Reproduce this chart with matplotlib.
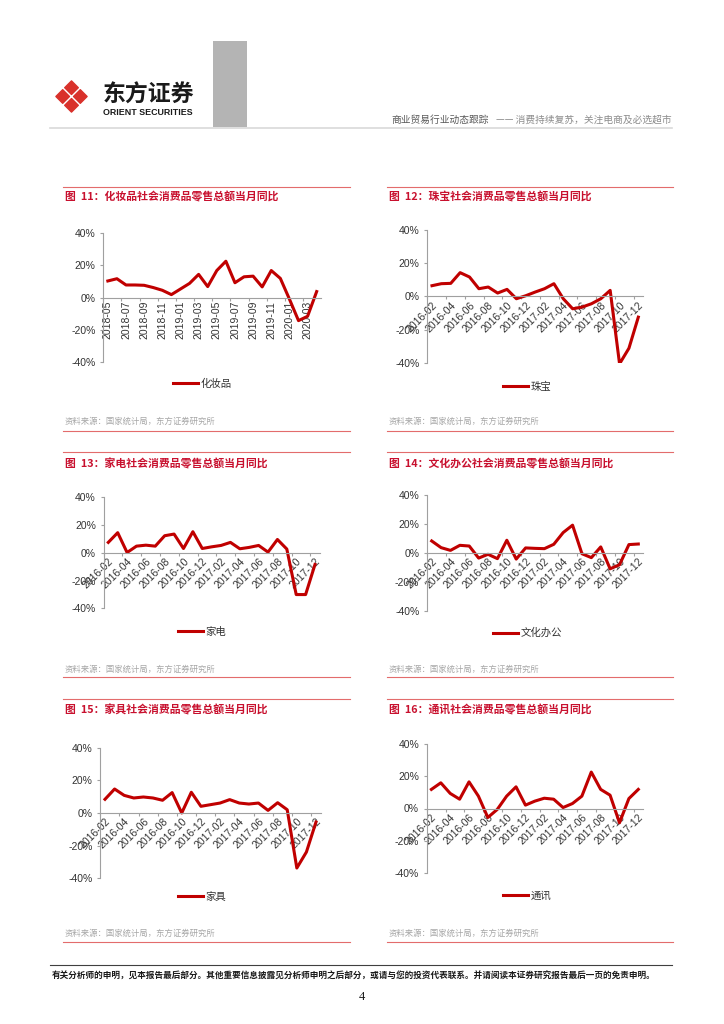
import matplotlib.pyplot as plt
from matplotlib.patches import Polygon, Rectangle
from matplotlib.ticker import FuncFormatter

# ---- 数据 (从原图读取, 单位 %) ----
months_a = ['2018-05', '2018-06', '2018-07', '2018-08', '2018-09', '2018-10',
            '2018-11', '2018-12', '2019-01', '2019-02', '2019-03', '2019-04',
            '2019-05', '2019-06', '2019-07', '2019-08', '2019-09', '2019-10',
            '2019-11', '2019-12', '2020-01', '2020-02', '2020-03', '2020-04']
months_b = ['2016-02', '2016-03', '2016-04', '2016-05', '2016-06', '2016-07',
            '2016-08', '2016-09', '2016-10', '2016-11', '2016-12', '2017-01',
            '2017-02', '2017-03', '2017-04', '2017-05', '2017-06', '2017-07',
            '2017-08', '2017-09', '2017-10', '2017-11', '2017-12']

cosmetics = [10.3, 11.7, 7.8, 7.8, 7.6, 6.2, 4.5, 1.8, 5.3, 8.8, 14.4, 6.8,
             16.8, 22.6, 9.2, 12.9, 13.3, 6.6, 16.8, 11.9, -1.0, -14.4, -11.7, 3.7]
jewelry = [6.4, 7.6, 7.8, 14.2, 11.6, 4.6, 5.6, 2.0, 4.2, -1.4, 0.4, 2.6,
           4.6, 7.6, -1.4, -7.4, -6.4, -4.4, -1.4, 3.6, -40.3, -31.0, -12.4]
appliance = [7.5, 14.5, 0.2, 4.8, 5.5, 4.8, 12.3, 13.5, 3.1, 15.2, 3.1, 4.3,
             5.3, 7.5, 2.9, 3.9, 5.3, 0.5, 9.6, 2.7, -30.1, -30.1, -8.4]
office = [8.3, 3.7, 1.8, 5.3, 4.8, -3.5, -0.9, -3.9, 8.8, -4.2, 3.5, 3.2,
          3.0, 6.0, 14.1, 19.2, -0.5, -3.2, 4.2, -10.9, -8.1, 5.8, 6.2]
furniture = [8.4, 14.7, 10.8, 9.2, 9.8, 9.2, 7.8, 12.5, 0.0, 12.7, 4.1, 5.1,
             6.1, 8.2, 6.1, 5.5, 6.1, 1.6, 6.3, 2.0, -33.7, -23.9, -5.5]
telecom = [11.9, 16.0, 9.4, 5.8, 16.6, 7.7, -5.6, -0.6, 7.7, 13.5, 2.1, 4.6,
           6.4, 5.8, 0.6, 3.1, 7.7, 22.7, 11.9, 8.3, -8.9, 6.2, 11.9]

yticks = [-40, -20, 0, 20, 40]

titles = ['图  11：化妆品社会消费品零售总额当月同比',
          '图  12：珠宝社会消费品零售总额当月同比',
          '图  13：家电社会消费品零售总额当月同比',
          '图  14：文化办公社会消费品零售总额当月同比',
          '图  15：家具社会消费品零售总额当月同比',
          '图  16：通讯社会消费品零售总额当月同比']
names = ['化妆品', '珠宝', '家电', '文化办公', '家具', '通讯']
series = [cosmetics, jewelry, appliance, office, furniture, telecom]
month_sets = [months_a, months_b, months_b, months_b, months_b, months_b]
source = '资料来源：国家统计局，东方证券研究所'

# ---- 样式 ----
W, H = 724, 1024
RED = '#c00000'
TITLE_RED = '#c8102e'
FRAME_RED = '#e36c6c'
AXIS = '#a0a0a0'
TICK_FONT = 'Liberation Sans'
CJK = ['Noto Sans CJK SC', 'DejaVu Sans']
plt.rcParams['font.family'] = CJK

fig = plt.figure(figsize=(W / 100, H / 100), dpi=100)
bg = fig.add_axes([0, 0, 1, 1])
bg.set_xlim(0, W)
bg.set_ylim(H, 0)
bg.axis('off')


def px_axes(l, t, r, b):
    return fig.add_axes([l / W, 1 - b / H, (r - l) / W, (b - t) / H])


# 版面: (坐标轴框 l,t,r,b), (框线 x0,x1,top,title_y,source_y,bottom), 图例起点
layout = [
    ((103.3, 233.3, 321.2, 361.7), (63, 350, 187, 197, 421, 430.5), (173, 384)),
    ((427.3, 229.5, 643.0, 363.3), (387, 673, 187, 197, 421, 430.5), (503, 387)),
    ((103.6, 497.3, 319.7, 608.3), (63, 350, 452, 464, 669, 677), (178, 632)),
    ((427.0, 495.0, 643.0, 611.0), (387, 673, 452, 464, 669, 677), (493, 633)),
    ((100.2, 747.7, 320.8, 878.3), (63, 350, 699, 710, 933.5, 942), (178, 897)),
    ((426.7, 744.3, 643.0, 872.7), (387, 673, 699, 710, 933.5, 942), (503, 896)),
]

for i, (box, frame, leg) in enumerate(layout):
    values = series[i]
    months = month_sets[i]
    n = len(values)
    fx0, fx1, ftop, ty, sy, fbot = frame

    # 框线、标题、资料来源
    bg.plot([fx0, fx1], [ftop, ftop], color=FRAME_RED, lw=0.8)
    bg.plot([fx0, fx1], [fbot, fbot], color=FRAME_RED, lw=0.8)
    bg.text(fx0 + 2, ty, titles[i], color=TITLE_RED, fontsize=7.8,
            fontweight='bold', va='center', ha='left')
    bg.text(fx0 + 2, sy, source, color='#a6a6a6', fontsize=6,
            va='center', ha='left')

    ax = px_axes(*box)
    ax.patch.set_alpha(0)
    ax.plot(range(n), values, color=RED, lw=2.2, solid_joinstyle='round',
            label=names[i])
    ax.set_xlim(-0.5, n - 0.5)
    ax.set_ylim(-40, 40)

    for s in ['top', 'right']:
        ax.spines[s].set_visible(False)
    ax.spines['left'].set_color(AXIS)
    ax.spines['left'].set_linewidth(0.8)
    ax.spines['bottom'].set_color(AXIS)
    ax.spines['bottom'].set_linewidth(0.8)
    ax.spines['bottom'].set_position(('data', 0))

    ax.set_yticks(yticks)
    ax.yaxis.set_major_formatter(FuncFormatter(lambda v, p: f'{v:.0f}%'))
    ax.tick_params(axis='y', length=2.5, width=0.8, color=AXIS, pad=3,
                   labelsize=7.5, labelcolor='#333333')

    ax.set_xticks(list(range(0, n, 2)))
    ax.set_xticks([k - 0.5 for k in range(0, n, 2)], minor=True)
    ax.tick_params(axis='x', which='major', length=0, pad=2.5,
                   labelsize=7.5, labelcolor='#333333')
    ax.tick_params(axis='x', which='minor', length=2.5, width=0.8, color=AXIS)
    if i == 0:
        ax.set_xticklabels(months[0::2], rotation=90, ha='right', va='center',
                           rotation_mode='anchor')
    else:
        ax.set_xticklabels(months[0::2], rotation=45, ha='right', va='top',
                           rotation_mode='anchor')
    for lab in ax.get_xticklabels() + ax.get_yticklabels():
        lab.set_fontfamily(TICK_FONT)

    lg = ax.legend(loc='center left', bbox_to_anchor=(leg[0], leg[1]),
                   bbox_transform=bg.transData, frameon=False, fontsize=7.5,
                   handlelength=2.4, handletextpad=0.25, borderpad=0,
                   borderaxespad=0)
    for t in lg.get_texts():
        t.set_color('#333333')

# ---- 页眉 ----
logo_red = '#d9312b'
cx, cy, d, r = 71.5, 96.5, 8.8, 6.8
for ox, oy in [(0, -d), (0, d), (-d, 0), (d, 0)]:
    px, py = cx + ox, cy + oy
    bg.add_patch(Polygon([(px, py - r), (px + r, py), (px, py + r), (px - r, py)],
                         closed=True, facecolor=logo_red, edgecolor=logo_red,
                         lw=1.0, joinstyle='round'))
bg.text(103, 95, '东方证券', fontsize=16.5, fontweight='bold', color='#1a1a1a',
        ha='left', va='center')
bg.text(103, 112.5, 'ORIENT SECURITIES', fontsize=6.4, fontweight='bold',
        color='#1a1a1a', ha='left', va='center', family=TICK_FONT)
bg.add_patch(Rectangle((213, 41), 34, 86, facecolor='#b4b4b4', edgecolor='none'))
bg.plot([50, 672], [127.5, 127.5], color='#d9d9d9', lw=1.2)
bg.text(391, 120, '商业贸易行业动态跟踪', fontsize=7, color='#595959',
        ha='left', va='center')
bg.text(672, 120, '—— 消费持续复苏，关注电商及必选超市', fontsize=7,
        color='#8c8c8c', ha='right', va='center')

# ---- 页脚 ----
bg.plot([50, 672], [965, 965], color='#404040', lw=0.8)
bg.text(52, 976, '有关分析师的申明，见本报告最后部分。其他重要信息披露见分析师申明之后部分，'
        '或请与您的投资代表联系。并请阅读本证券研究报告最后一页的免责申明。',
        fontsize=6.2, fontweight='bold', color='#1a1a1a', ha='left', va='center')
bg.text(362, 997, '4', fontsize=9, family='Liberation Serif', color='#1a1a1a',
        ha='center', va='center')

fig.savefig('out.png', dpi=100)
